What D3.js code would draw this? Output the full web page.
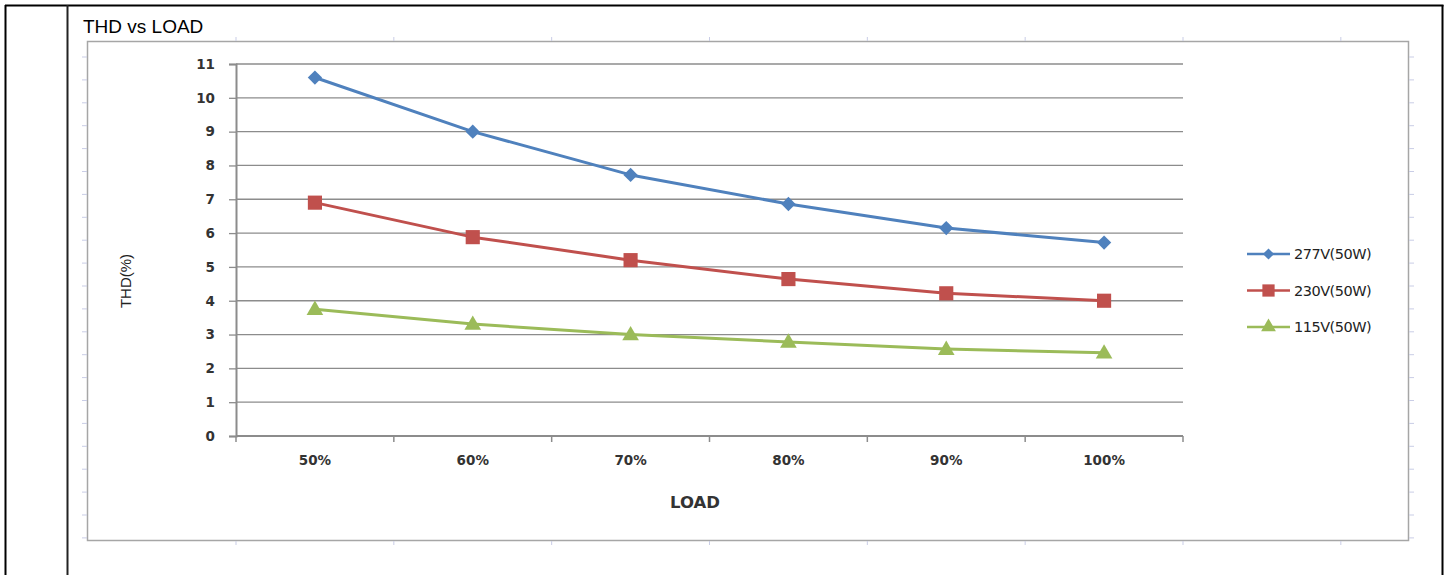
<!DOCTYPE html>
<html>
<head>
<meta charset="utf-8">
<script src="https://cdn.jsdelivr.net/npm/d3@7/dist/d3.min.js"></script>
<style>
html,body{margin:0;padding:0;background:#fff;}
svg{display:block;}
</style>
</head>
<body>
<svg id="chart" width="1451" height="575"></svg>
<script>
const categories = ["50%", "60%", "70%", "80%", "90%", "100%"];
const seriesNames = ["277V(50W)", "230V(50W)", "115V(50W)"];
const v277 = [10.6, 9.0, 7.72, 6.86, 6.15, 5.72];
const v230 = [6.9, 5.88, 5.2, 4.64, 4.22, 4.0];
const v115 = [3.75, 3.31, 3.0, 2.78, 2.57, 2.46];
const yTicks = [0,1,2,3,4,5,6,7,8,9,10,11];
const title = "THD vs LOAD";
const xTitle = "LOAD";
const yTitle = "THD(%)";

const series = [
  {name: seriesNames[0], values: v277, color: "#4F81BD", marker: "diamond"},
  {name: seriesNames[1], values: v230, color: "#C0504D", marker: "square"},
  {name: seriesNames[2], values: v115, color: "#9BBB59", marker: "triangle"}
];

const svg = d3.select("#chart");

// outer table borders
svg.append("line").attr("x1",5.5).attr("x2",5.5).attr("y1",5).attr("y2",575).attr("stroke","#000").attr("stroke-width",2);
svg.append("line").attr("x1",5).attr("x2",1443.5).attr("y1",5.5).attr("y2",5.5).attr("stroke","#000").attr("stroke-width",2);
svg.append("line").attr("x1",1442.5).attr("x2",1442.5).attr("y1",5).attr("y2",575).attr("stroke","#000").attr("stroke-width",2);
svg.append("line").attr("x1",67.5).attr("x2",67.5).attr("y1",5).attr("y2",575).attr("stroke","#222").attr("stroke-width",2);

// title
svg.append("text").attr("x",83).attr("y",33).attr("font-family","Liberation Sans, Arial, sans-serif")
  .attr("font-size",19).attr("fill","#000").text(title);

// chart frame
const frame = {x0: 87.5, y0: 41.5, x1: 1408.5, y1: 540.5};
svg.append("rect").attr("x",frame.x0).attr("y",frame.y0).attr("width",frame.x1-frame.x0).attr("height",frame.y1-frame.y0)
  .attr("fill","#fff").attr("stroke","#a6a6a6").attr("stroke-width",1.5);

const plot = {left: 236, right: 1183, top: 64, bottom: 436};

const x = d3.scaleBand().domain(categories).range([plot.left, plot.right]).padding(0);
const y = d3.scaleLinear().domain([0, 11]).range([plot.bottom, plot.top]);

// faint outside ticks on the frame
const faint = "#c9cde6";
const outerStep = 22.9;
for (let yy = 57; yy < frame.y1; yy += outerStep) {
  svg.append("line").attr("x1",82).attr("x2",87).attr("y1",yy).attr("y2",yy).attr("stroke",faint).attr("stroke-width",1);
  svg.append("line").attr("x1",1409).attr("x2",1414).attr("y1",yy).attr("y2",yy).attr("stroke",faint).attr("stroke-width",1);
}
const bounds = categories.map(c => x(c)).concat([plot.right]);
bounds.concat([plot.right + x.bandwidth()]).forEach(bx => {
  svg.append("line").attr("x1",bx).attr("x2",bx).attr("y1",37).attr("y2",41).attr("stroke",faint).attr("stroke-width",1);
  svg.append("line").attr("x1",bx).attr("x2",bx).attr("y1",541).attr("y2",545).attr("stroke",faint).attr("stroke-width",1);
});

// gridlines
svg.append("g").selectAll("line").data(yTicks.filter(d => d > 0)).join("line")
  .attr("x1", plot.left).attr("x2", plot.right)
  .attr("y1", d => y(d)).attr("y2", d => y(d))
  .attr("stroke", "#8c8c8c").attr("stroke-width", 1.3);

// y axis
const yAxis = svg.append("g").attr("transform", `translate(${plot.left},0)`)
  .call(d3.axisLeft(y).tickValues(yTicks).tickSize(7).tickPadding(14).tickFormat(d3.format("d")));
yAxis.select(".domain").attr("stroke", "#8c8c8c").attr("stroke-width", 2);
yAxis.selectAll(".tick line").attr("stroke", "#8c8c8c").attr("stroke-width", 1.3);
yAxis.selectAll(".tick text").attr("font-family", "DejaVu Sans, Verdana, sans-serif").attr("font-weight","bold")
  .attr("font-size", 13.5).attr("fill", "#333");

// x axis
const xAxis = svg.append("g").attr("transform", `translate(0,${plot.bottom})`)
  .call(d3.axisBottom(x).tickSize(0).tickPadding(19));
xAxis.select(".domain").remove();
svg.append("line").attr("x1",plot.left).attr("x2",plot.right).attr("y1",plot.bottom).attr("y2",plot.bottom)
  .attr("stroke","#8c8c8c").attr("stroke-width",2);
svg.append("g").selectAll("line").data(bounds).join("line")
  .attr("x1", d => d).attr("x2", d => d).attr("y1", plot.bottom).attr("y2", plot.bottom + 6)
  .attr("stroke", "#8c8c8c").attr("stroke-width", 1.5);
xAxis.selectAll(".tick text").attr("font-family", "DejaVu Sans, Verdana, sans-serif").attr("font-weight","bold")
  .attr("font-size", 13.5).attr("fill", "#333");

// axis titles
svg.append("text").attr("x", 695).attr("y", 508).attr("text-anchor","middle")
  .attr("font-family","DejaVu Sans, Verdana, sans-serif").attr("font-weight","bold").attr("font-size",16.5).attr("fill","#333")
  .text(xTitle);
svg.append("text").attr("transform","translate(131,281) rotate(-90)").attr("text-anchor","middle")
  .attr("font-family","Liberation Sans, Arial, sans-serif").attr("font-size",15).attr("fill","#222")
  .text(yTitle);

const cx = d => x(d) + x.bandwidth()/2;
const line = d3.line().x((d,i) => cx(categories[i])).y(d => y(d));

function markerPath(type, size) {
  if (type === "diamond") return d3.symbol().type(d3.symbolDiamond2).size(size)();
  if (type === "square") return d3.symbol().type(d3.symbolSquare).size(size)();
  return d3.symbol().type(d3.symbolTriangle).size(size)();
}
const markerSize = {diamond: 130, square: 200, triangle: 120};
const legendMarkerSize = {diamond: 80, square: 150, triangle: 95};

series.forEach(s => {
  svg.append("path").datum(s.values).attr("d", line).attr("fill","none")
    .attr("stroke", s.color).attr("stroke-width", 3).attr("stroke-linejoin","round");
  svg.append("g").selectAll("path").data(s.values).join("path")
    .attr("d", markerPath(s.marker, markerSize[s.marker]))
    .attr("transform", (d,i) => `translate(${cx(categories[i])},${y(d) + (s.marker==="triangle"?1:0)})`)
    .attr("fill", s.color);
});

// legend
const legY = d3.scalePoint().domain(seriesNames).range([254, 327]);
const leg = svg.append("g");
series.forEach(s => {
  const ly = legY(s.name);
  leg.append("line").attr("x1",1247).attr("x2",1290).attr("y1",ly).attr("y2",ly).attr("stroke",s.color).attr("stroke-width",2.5);
  leg.append("path").attr("d", markerPath(s.marker, legendMarkerSize[s.marker]))
    .attr("transform",`translate(1268.5,${ly})`).attr("fill", s.color);
  leg.append("text").attr("x",1294).attr("y",ly+5).attr("font-family","DejaVu Sans, Verdana, sans-serif")
    .attr("font-size",14.5).attr("fill","#222").attr("letter-spacing",-0.5).text(s.name);
});
</script>
</body>
</html>
